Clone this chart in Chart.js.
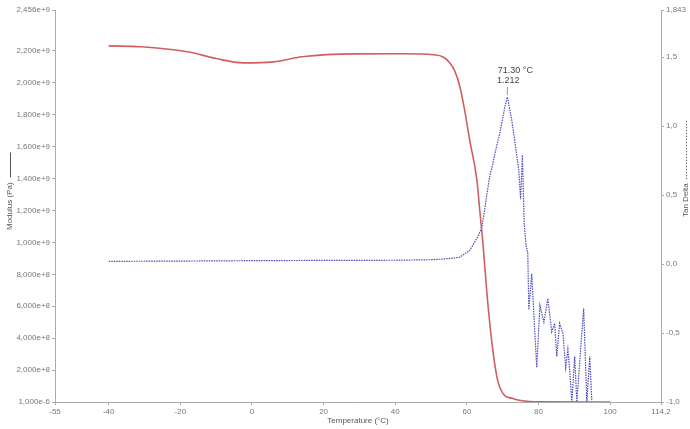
<!DOCTYPE html>
<html>
<head>
<meta charset="utf-8">
<script src="https://cdn.jsdelivr.net/npm/chart.js@4.4.1/dist/chart.umd.min.js"></script>
<style>
html,body{margin:0;padding:0;background:#fff;}
#wrap{width:690px;height:429px;}
</style>
</head>
<body>
<div id="wrap"><canvas id="c" width="690" height="429"></canvas></div>
<script>
// ---- data ----
const tempModulus = [-40,-31,-18,-10,-2.5,6,14,29,43,50.5,53.5,55.2,56.6,58,59.4,60.8,62.8,63.6,64.5,65.6,67.0,68.4,70.0,72.8,76,80,100];
const modulusPa = [2.231e9,2.226e9,2.194e9,2.152e9,2.125e9,2.131e9,2.163e9,2.181e9,2.182e9,2.176e9,2.160e9,2.125e9,2.075e9,1.980e9,1.825e9,1.640e9,1.390e9,1.200e9,0.990e9,0.680e9,0.370e9,0.156e9,0.056e9,0.022e9,0.006e9,0.001e9,0];
const tempTan = [-40,-20,0,20,40,50,55,58,60.8,63.1,64.2,65.0,65.6,66.4,67.2,67.8,69.2,70.6,71.3,72.5,73.6,74.5,75.0,75.5,76.0,76.5,77.0,77.3,78.1,79.5,80.4,81.5,82.6,83.7,84.5,85.1,85.9,86.8,87.6,88.2,88.7,89.3,90.1,90.7,92.6,93.5,94.3,94.9];
const tanDelta = [0.020,0.022,0.025,0.027,0.028,0.032,0.040,0.050,0.100,0.200,0.270,0.400,0.510,0.640,0.720,0.800,0.950,1.140,1.212,1.050,0.850,0.680,0.470,0.790,0.300,0.140,0.080,-0.330,-0.070,-0.750,-0.300,-0.420,-0.250,-0.490,-0.430,-0.670,-0.430,-0.500,-0.750,-0.620,-0.770,-1.000,-0.670,-1.000,-0.320,-1.000,-0.670,-1.000];
const xTicks = [-55,-40,-20,0,20,40,60,80,100,114.2];
const yTicks = [1e-6,2e8,4e8,6e8,8e8,1e9,1.2e9,1.4e9,1.6e9,1.8e9,2e9,2.2e9,2.456e9];
const y2Ticks = [-1,-0.5,0,0.5,1,1.5,1.843];
const peakLabel = ['71.30 °C','1.212'];
const peakT = 71.3, peakV = 1.212;

const FONT = '"Liberation Sans", Arial, sans-serif';
const tickColor = '#777';
const axisColor = '#aaa';

const fmtX = v => String(v).replace('.', ',');
const fmtY = v => v.toExponential(3).replace('.', ',');
const fmtY2 = v => (Math.abs(v - 1.843) < 1e-9 ? '1.843' : v.toFixed(1)).replace('.', ',');

const titles = {
  id: 'titles',
  afterDraw(chart) {
    const ctx = chart.ctx;
    const ca = chart.chartArea;
    ctx.save();
    ctx.fillStyle = '#555';
    ctx.font = '8px ' + FONT;
    // x title
    ctx.textAlign = 'center';
    ctx.textBaseline = 'middle';
    ctx.fillText('Temperature (°C)', (ca.left + ca.right) / 2, 421);
    // left title
    ctx.save();
    ctx.translate(10, 230);
    ctx.rotate(-Math.PI / 2);
    ctx.textAlign = 'left';
    const t1 = 'Modulus (Pa)';
    ctx.fillText(t1, 0, 0);
    const w1 = ctx.measureText(t1).width;
    ctx.strokeStyle = '#555';
    ctx.lineWidth = 1;
    ctx.beginPath();
    ctx.moveTo(w1 + 5, 0.5);
    ctx.lineTo(w1 + 30, 0.5);
    ctx.stroke();
    ctx.restore();
    // right title
    ctx.save();
    ctx.translate(686, 217);
    ctx.rotate(-Math.PI / 2);
    ctx.textAlign = 'left';
    const t2 = 'Tan Delta';
    ctx.fillText(t2, 0, 0);
    const w2 = ctx.measureText(t2).width;
    ctx.strokeStyle = '#666';
    ctx.setLineDash([1.5, 1.5]);
    ctx.beginPath();
    ctx.moveTo(w2 + 4, 0.5);
    ctx.lineTo(w2 + 64, 0.5);
    ctx.stroke();
    ctx.restore();
    // peak annotation
    const xs = chart.scales.x, y2 = chart.scales.y2;
    const px = xs.getPixelForValue(peakT), py = y2.getPixelForValue(peakV);
    ctx.fillStyle = '#444';
    ctx.font = '9px ' + FONT;
    ctx.textAlign = 'center';
    ctx.fillText(peakLabel[0], px + 8, py - 26);
    ctx.fillText(peakLabel[1], px + 1, py - 16);
    ctx.strokeStyle = '#999';
    ctx.setLineDash([]);
    ctx.beginPath();
    ctx.moveTo(px, py - 10);
    ctx.lineTo(px, py - 2);
    ctx.stroke();
    ctx.restore();
  }
};

const setTicks = arr => scale => { scale.ticks = arr.map(v => ({ value: v })); };

new Chart(document.getElementById('c'), {
  type: 'line',
  data: {
    datasets: [
      {
        label: 'Modulus (Pa)',
        data: tempModulus.map((t, i) => ({ x: t, y: modulusPa[i] })),
        yAxisID: 'y',
        borderColor: 'rgb(210,95,95)',
        borderWidth: 1.6,
        pointRadius: 0,
        cubicInterpolationMode: 'monotone',
        fill: false
      },
      {
        label: 'Tan Delta',
        data: tempTan.map((t, i) => ({ x: t, y: tanDelta[i] })),
        yAxisID: 'y2',
        borderColor: 'rgb(75,75,190)',
        borderWidth: 1.2,
        borderDash: [1.5, 1],
        pointRadius: 0,
        tension: 0,
        fill: false
      }
    ]
  },
  options: {
    responsive: false,
    animation: false,
    devicePixelRatio: 1,
    layout: { padding: { top: 10, left: 0, right: 0, bottom: 0 } },
    plugins: { legend: { display: false }, tooltip: { enabled: false } },
    scales: {
      x: {
        type: 'linear',
        min: -55, max: 114.2,
        afterBuildTicks: setTicks(xTicks),
        afterFit: s => { s.height = 27; },
        grid: { drawOnChartArea: false, drawTicks: true, tickLength: 3, color: axisColor },
        border: { display: true, color: axisColor },
        ticks: { autoSkip: false, maxRotation: 0, padding: 2, color: tickColor, font: { family: FONT, size: 8 }, callback: v => fmtX(v) }
      },
      y: {
        type: 'linear',
        position: 'left',
        min: 1e-6, max: 2.456e9,
        afterBuildTicks: setTicks(yTicks),
        afterFit: s => { s.width = 55; },
        grid: { drawOnChartArea: false, drawTicks: true, tickLength: 3, color: axisColor },
        border: { display: true, color: axisColor },
        ticks: { autoSkip: false, padding: 2, color: tickColor, font: { family: FONT, size: 8 }, callback: v => fmtY(v) }
      },
      y2: {
        type: 'linear',
        position: 'right',
        min: -1, max: 1.843,
        afterBuildTicks: setTicks(y2Ticks),
        afterFit: s => { s.width = 29; },
        grid: { drawOnChartArea: false, drawTicks: true, tickLength: 3, color: axisColor },
        border: { display: true, color: axisColor },
        ticks: { autoSkip: false, padding: 2, color: tickColor, font: { family: FONT, size: 8 }, callback: v => fmtY2(v) }
      }
    }
  },
  plugins: [titles]
});
</script>
</body>
</html>
